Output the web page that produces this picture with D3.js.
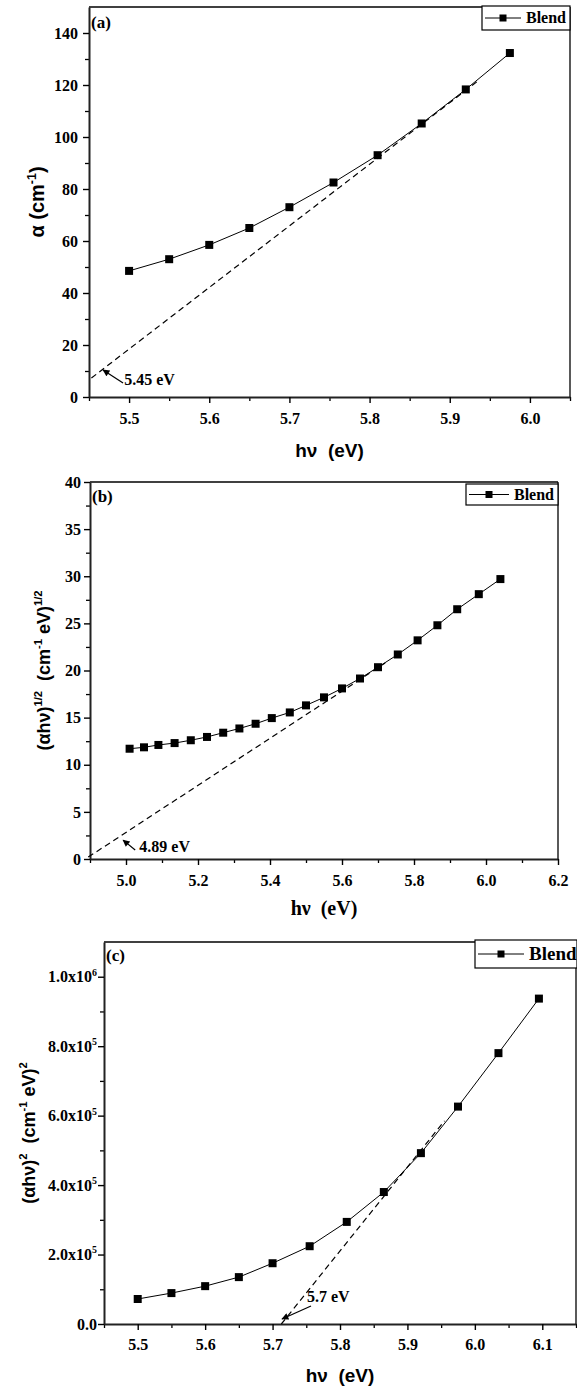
<!DOCTYPE html>
<html>
<head>
<meta charset="utf-8">
<script src="https://cdn.jsdelivr.net/npm/d3@7"></script>
<style>
body { margin: 0; background: #fff; }
svg { display: block; }
text { white-space: pre; }
</style>
</head>
<body>
<svg id="chart" width="577" height="1390"></svg>
<script>
// (a) alpha vs photon energy
var energyA = [5.50, 5.55, 5.60, 5.65, 5.70, 5.755, 5.81, 5.865, 5.92, 5.975];
var alphaA = [48.5, 53, 58.5, 65, 73, 82.5, 93, 105.2, 118.3, 132.3];
var fitA = [[5.453, 7.3], [5.935, 121.5]];
var xTicksA = [5.5, 5.6, 5.7, 5.8, 5.9, 6.0];
var yTicksA = [0, 20, 40, 60, 80, 100, 120, 140];

// (b) (alpha h nu)^1/2
var energyB = [5.01, 5.05, 5.09, 5.135, 5.18, 5.225, 5.27, 5.315, 5.36, 5.405, 5.455,
               5.50, 5.55, 5.60, 5.65, 5.70, 5.755, 5.81, 5.865, 5.92, 5.98, 6.04];
var sqrtB = [11.7, 11.85, 12.1, 12.3, 12.6, 12.95, 13.4, 13.85, 14.35, 14.95, 15.55,
             16.3, 17.15, 18.1, 19.15, 20.35, 21.7, 23.2, 24.8, 26.5, 28.1, 29.7];
var fitB = [[4.895, 0.2], [5.72, 20.8]];
var xTicksB = [5.0, 5.2, 5.4, 5.6, 5.8, 6.0, 6.2];
var yTicksB = [0, 5, 10, 15, 20, 25, 30, 35, 40];

// (c) (alpha h nu)^2
var energyC = [5.50, 5.55, 5.60, 5.65, 5.70, 5.755, 5.81, 5.865, 5.92, 5.975, 6.035, 6.095];
var squareC = [72000, 89000, 109000, 135000, 175000, 224000, 294000, 380000, 492000, 626000, 780000, 937000];
var fitC = [[5.713, 0], [5.955, 585000]];
var xTicksC = [5.5, 5.6, 5.7, 5.8, 5.9, 6.0, 6.1];
var yTicksC = [0, 200000, 400000, 600000, 800000, 1000000];

var gapLabels = ["5.45 eV", "4.89 eV", "5.7 eV"];
var seriesName = "Blend";

var svg = d3.select("#chart");
var serif = "'Liberation Serif', 'Times New Roman', serif";
var sans = "'Liberation Sans', Arial, sans-serif";

svg.append("defs").append("marker")
    .attr("id", "arrow")
    .attr("viewBox", "0 0 10 10")
    .attr("refX", 9).attr("refY", 5)
    .attr("markerWidth", 9).attr("markerHeight", 7)
    .attr("markerUnits", "userSpaceOnUse")
    .attr("orient", "auto")
    .append("path").attr("d", "M0,0 L10,5 L0,10 z").attr("fill", "#000");

// text with superscripts: parts = [[string, isSup], ...]
function richText(sel, parts, size) {
    var up = false;
    parts.forEach(function(p) {
        var t = sel.append("tspan").text(p[0]);
        if (p[1]) {
            t.attr("font-size", (size * 0.62) + "px").attr("dy", -size * 0.42);
            up = true;
        } else if (up) {
            t.attr("dy", size * 0.42);
            up = false;
        }
    });
}

function drawPanel(p) {
    var g = svg.append("g");
    var x = d3.scaleLinear().domain(p.xDomain).range([p.left, p.right]);
    var y = d3.scaleLinear().domain(p.yDomain).range([p.bottom, p.top]);

    // frame top/right
    g.append("line").attr("x1", p.left).attr("x2", p.right).attr("y1", p.top).attr("y2", p.top)
        .attr("stroke", "#000").attr("stroke-width", 1.3);
    g.append("line").attr("x1", p.right).attr("x2", p.right).attr("y1", p.top).attr("y2", p.bottom)
        .attr("stroke", "#000").attr("stroke-width", 1.3);

    // minor ticks
    g.append("g").attr("transform", "translate(0," + p.bottom + ")")
        .call(d3.axisBottom(x).tickValues(p.xMinor).tickSize(4).tickFormat(""))
        .call(function(a) { a.select(".domain").remove(); a.selectAll("line").attr("stroke-width", 1.3); });
    g.append("g").attr("transform", "translate(" + p.left + ",0)")
        .call(d3.axisLeft(y).tickValues(p.yMinor).tickSize(4).tickFormat(""))
        .call(function(a) { a.select(".domain").remove(); a.selectAll("line").attr("stroke-width", 1.3); });

    var xa = g.append("g").attr("transform", "translate(0," + p.bottom + ")")
        .call(d3.axisBottom(x).tickValues(p.xTicks).tickSize(6).tickSizeOuter(0)
            .tickPadding(p.xPad).tickFormat(d3.format(".1f")));
    var ya = g.append("g").attr("transform", "translate(" + p.left + ",0)")
        .call(d3.axisLeft(y).tickValues(p.yTicks).tickSize(6).tickSizeOuter(0)
            .tickPadding(p.yPad).tickFormat(d3.format("d")));
    [xa, ya].forEach(function(a) {
        a.select(".domain").attr("stroke-width", 2).attr("stroke", "#222");
        a.selectAll(".tick line").attr("stroke-width", 1.4);
        a.selectAll(".tick text").attr("font-family", serif).attr("font-weight", "bold")
            .attr("font-size", "16px").attr("fill", "#000");
    });
    if (p.sciY) {
        ya.selectAll(".tick text").each(function(d) {
            var t = d3.select(this).text(null);
            if (d === 0) { t.text("0.0"); return; }
            var e = Math.floor(Math.log10(d));
            richText(t, [[(d / Math.pow(10, e)).toFixed(1) + "x10", false], [String(e), true]], 16);
        });
    }

    // fit line
    g.append("path").datum(p.fit)
        .attr("d", d3.line().x(function(d) { return x(d[0]); }).y(function(d) { return y(d[1]); }))
        .attr("fill", "none").attr("stroke", "#000").attr("stroke-width", 1.2)
        .attr("stroke-dasharray", "6,4");

    // series
    var pts = p.xs.map(function(v, i) { return [v, p.ys[i]]; });
    g.append("path").datum(pts)
        .attr("d", d3.line().x(function(d) { return x(d[0]); }).y(function(d) { return y(d[1]); }))
        .attr("fill", "none").attr("stroke", "#000").attr("stroke-width", 1);
    g.selectAll("rect.pt").data(pts).enter().append("rect").attr("class", "pt")
        .attr("x", function(d) { return x(d[0]) - 4; })
        .attr("y", function(d) { return y(d[1]) - 4; })
        .attr("width", 8).attr("height", 8).attr("fill", "#000");

    // gap annotation
    g.append("line")
        .attr("x1", x(p.arrow[0][0])).attr("y1", y(p.arrow[0][1]))
        .attr("x2", x(p.arrow[1][0])).attr("y2", y(p.arrow[1][1]))
        .attr("stroke", "#000").attr("stroke-width", 1.2).attr("marker-end", "url(#arrow)");
    g.append("text").attr("x", x(p.gapPos[0])).attr("y", y(p.gapPos[1]))
        .attr("font-family", serif).attr("font-weight", "bold").attr("font-size", "16px")
        .text(p.gapLabel);

    // panel label
    g.append("text").attr("x", p.left + 2).attr("y", p.top + p.labelDy)
        .attr("font-family", serif).attr("font-weight", "bold").attr("font-size", "17px")
        .text(p.label);

    // legend
    var L = p.legend;
    g.append("rect").attr("x", L.x0).attr("y", L.y0).attr("width", L.x1 - L.x0).attr("height", L.y1 - L.y0)
        .attr("fill", "#fff").attr("stroke", "#000").attr("stroke-width", 1.2);
    var ly = (L.y0 + L.y1) / 2;
    g.append("line").attr("x1", L.x0 + 3).attr("x2", L.x0 + 3 + L.lineLen).attr("y1", ly).attr("y2", ly)
        .attr("stroke", "#000").attr("stroke-width", 1);
    g.append("rect").attr("x", L.x0 + 3 + L.lineLen / 2 - 3.5).attr("y", ly - 3.5)
        .attr("width", 7).attr("height", 7).attr("fill", "#000");
    g.append("text").attr("x", L.x0 + L.lineLen + 8).attr("y", ly + L.fs * 0.33)
        .attr("font-family", serif).attr("font-weight", "bold").attr("font-size", L.fs + "px")
        .text(seriesName);

    // axis titles
    g.append("text").attr("x", (p.left + p.right) / 2).attr("y", p.xTitleY)
        .attr("text-anchor", "middle").attr("font-family", p.xTitleFont).attr("font-weight", "bold")
        .attr("font-size", p.xTitleSize + "px").text("hν  (eV)");
    var yt = g.append("text")
        .attr("transform", "translate(" + p.yTitleX + "," + ((p.top + p.bottom) / 2) + ") rotate(-90)")
        .attr("text-anchor", "middle").attr("font-family", sans).attr("font-weight", "bold")
        .attr("font-size", p.yTitleSize + "px");
    richText(yt, p.yTitle, p.yTitleSize);
}

drawPanel({
    xs: energyA, ys: alphaA, fit: fitA, xTicks: xTicksA, yTicks: yTicksA,
    xMinor: d3.range(5.45, 6.06, 0.1), yMinor: d3.range(10, 150, 20),
    xDomain: [5.45, 6.05], yDomain: [0, 150],
    left: 89, right: 570, top: 7, bottom: 397, xPad: 10, yPad: 5,
    arrow: [[5.4925, 5.4], [5.4675, 10.4]], gapPos: [5.494, 4.6], gapLabel: gapLabels[0],
    label: "(a)", labelDy: 21,
    legend: { x0: 482, x1: 570, y0: 6, y1: 30, lineLen: 36, fs: 16 },
    xTitleY: 457, xTitleFont: sans, xTitleSize: 19,
    yTitleX: 44, yTitleSize: 20, yTitle: [["α (cm", false], ["-1", true], [")", false]]
});

drawPanel({
    xs: energyB, ys: sqrtB, fit: fitB, xTicks: xTicksB, yTicks: yTicksB,
    xMinor: d3.range(4.9, 6.21, 0.2), yMinor: d3.range(2.5, 40, 5),
    xDomain: [4.9, 6.2], yDomain: [0, 40],
    left: 90, right: 558, top: 482, bottom: 859, xPad: 10, yPad: 3,
    arrow: [[5.0255, 0.95], [4.992, 2.0]], gapPos: [5.037, 0.74], gapLabel: gapLabels[1],
    label: "(b)", labelDy: 20,
    legend: { x0: 466, x1: 558, y0: 484, y1: 505, lineLen: 40, fs: 16 },
    xTitleY: 915, xTitleFont: serif, xTitleSize: 20,
    yTitleX: 50, yTitleSize: 18,
    yTitle: [["(αhν)", false], ["1/2", true], ["  (cm", false], ["-1", true], [" eV)", false], ["1/2", true]]
});

drawPanel({
    xs: energyC, ys: squareC, fit: fitC, xTicks: xTicksC, yTicks: yTicksC,
    xMinor: d3.range(5.45, 6.16, 0.1), yMinor: d3.range(100000, 1100000, 200000),
    xDomain: [5.45, 6.15], yDomain: [0, 1100000],
    left: 104, right: 576, top: 942, bottom: 1324, xPad: 9, yPad: 1, sciY: true,
    arrow: [[5.757, 51800], [5.714, 14400]], gapPos: [5.751, 63000], gapLabel: gapLabels[2],
    label: "(c)", labelDy: 19,
    legend: { x0: 475, x1: 577, y0: 940, y1: 968, lineLen: 46, fs: 19 },
    xTitleY: 1382, xTitleFont: sans, xTitleSize: 19,
    yTitleX: 35, yTitleSize: 18,
    yTitle: [["(αhν)", false], ["2", true], ["  (cm", false], ["-1", true], [" eV)", false], ["2", true]]
});
</script>
</body>
</html>
